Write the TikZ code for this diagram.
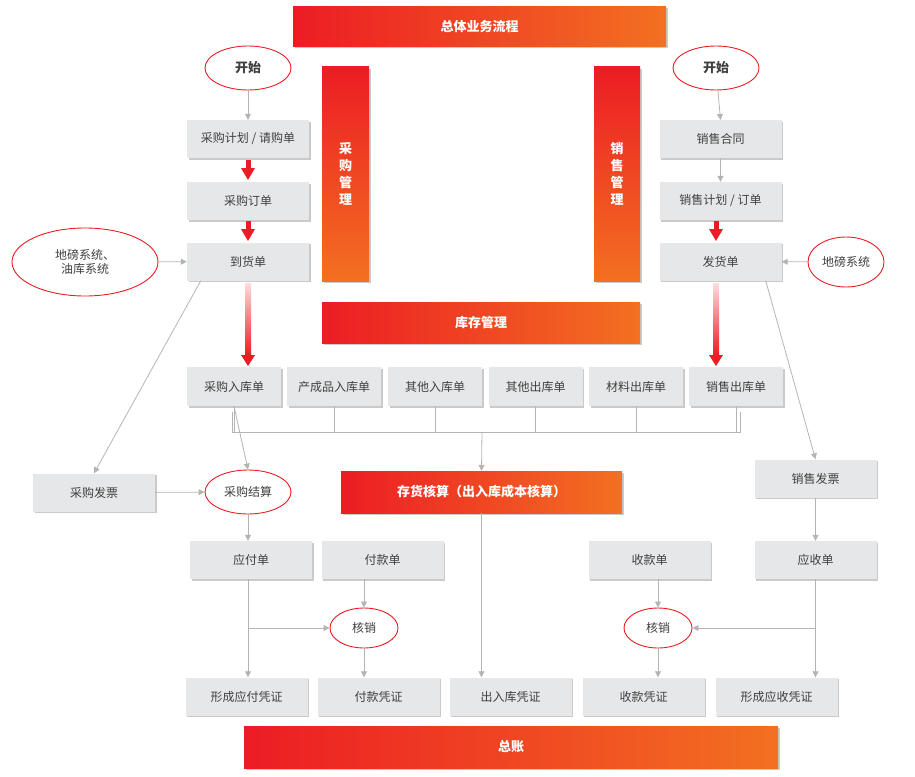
\documentclass[tikz,border=0pt]{standalone}
\usepackage{fontspec}
\setmainfont{Noto Sans CJK SC}
\usetikzlibrary{shadows,arrows.meta,shapes.geometric}
\definecolor{cR}{HTML}{EC1C24}
\definecolor{cO}{HTML}{F37021}
\definecolor{bx}{HTML}{E6E7E8}
\definecolor{ln}{HTML}{B4B4B4}
\definecolor{tx}{HTML}{404040}
\begin{document}
\begin{tikzpicture}[x=1pt,y=-1pt,
  box/.style={draw=none,fill=bx,minimum width=122pt,minimum height=38pt,inner sep=0pt,text=tx,font=\fontsize{12}{14}\selectfont,drop shadow={shadow xshift=1.5pt,shadow yshift=-1.5pt,fill=black!35,opacity=0.6}},
  ell/.style={ellipse,draw=cR,line width=0.9pt,fill=white,inner sep=0pt,text=tx,font=\fontsize{12}{14}\selectfont},
  hbar/.style={left color=cR,right color=cO,draw=none,text=white,font=\bfseries\fontsize{13}{15}\selectfont,inner sep=0pt,drop shadow={shadow xshift=1.5pt,shadow yshift=-1.5pt,fill=black!35,opacity=0.6}},
  vbar/.style={top color=cR,bottom color=cO,draw=none,text=white,font=\bfseries\fontsize{13}{17}\selectfont,inner sep=0pt,align=center,drop shadow={shadow xshift=1.5pt,shadow yshift=-1.5pt,fill=black!35,opacity=0.6}},
  ar/.style={draw=ln,line width=0.8pt,-{Triangle[length=6pt,width=6pt]}},
  gl/.style={draw=ln,line width=0.8pt}]
\useasboundingbox (0,0) rectangle (915,776);
% bars
\node[hbar,minimum width=373pt,minimum height=40pt] (title) at (479.5,27) {总体业务流程};
\node[vbar,minimum width=47pt,minimum height=214pt] (cg) at (345.5,174) {采\\购\\管\\理};
\node[vbar,minimum width=46pt,minimum height=214pt] (xs) at (617,174) {销\\售\\管\\理};
\node[hbar,minimum width=318pt,minimum height=41pt] (kc) at (481,322.5) {库存管理};
\node[hbar,minimum width=281pt,minimum height=42pt] (ch) at (481.5,492) {存货核算（出入库成本核算）};
\node[hbar,minimum width=534pt,minimum height=42pt] (zz) at (511,747) {总账};
% ellipses
\node[ell,minimum width=86pt,minimum height=44pt,font=\bfseries\fontsize{13}{15}\selectfont] (s1) at (248,68) {开始};
\node[ell,minimum width=86pt,minimum height=44pt,font=\bfseries\fontsize{13}{15}\selectfont] (s2) at (716,68) {开始};
\node[ell,minimum width=146pt,minimum height=68pt,align=center] (db1) at (85,262) {地磅系统、\\油库系统};
\node[ell,minimum width=76pt,minimum height=50pt] (db2) at (846,262) {地磅系统};
% left column
\node[box] (p1) at (248,139) {采购计划 / 请购单};
\node[box] (p2) at (248,201) {采购订单};
\node[box] (p3) at (248,261.5) {到货单};
\node[box] (q1) at (720.5,139) {销售合同};
\node[box] (q2) at (720.5,201) {销售计划 / 订单};
\node[box] (q3) at (720.5,261.5) {发货单};
% row
\foreach \n/\x/\t in {r1/234/采购入库单,r2/334/产成品入库单,r3/435/其他入库单,r4/535.5/其他出库单,r5/636/材料出库单,r6/736/销售出库单}
  \node[box,minimum width=94pt,minimum height=39pt] (\n) at (\x,386.5) {\t};
\node[box] (fp1) at (94,492.5) {采购发票};
\node[ell,minimum width=86pt,minimum height=44pt] (js) at (248,492) {采购结算};
\node[box] (fp2) at (815.5,478.5) {销售发票};
\node[box] (yf) at (251,560) {应付单};
\node[box] (fk) at (382.5,560) {付款单};
\node[box] (sk) at (649.5,560) {收款单};
\node[box] (ys) at (815.5,560) {应收单};
\node[ell,minimum width=68pt,minimum height=40pt] (hx1) at (364,628) {核销};
\node[ell,minimum width=68pt,minimum height=40pt] (hx2) at (658,628) {核销};
\node[box] (v1) at (246.5,696.5) {形成应付凭证};
\node[box] (v2) at (378.5,696.5) {付款凭证};
\node[box] (v3) at (510.5,696.5) {出入库凭证};
\node[box] (v4) at (643.5,696.5) {收款凭证};
\node[box] (v5) at (776.5,696.5) {形成应收凭证};
% gray arrows
\draw[ar] (s1) -- (p1);
\draw[ar] (s2) -- (q1 |- 0,120);
\draw[ar] (q1) -- (q2);
\draw[ar] (db1) -- (p3);
\draw[ar] (db2) -- (q3);
\draw[ar] (p3.south west) ++(14,0) coordinate (d1) -- (fp1.north);
\draw[ar] (q3.south east) ++(-16,0) coordinate (d2) -- (fp2.north);
\foreach \n in {r1,r2,r3,r4,r5,r6} \draw[gl] (\n.south) -- ++(0,26);
\coordinate (br) at (232,432);
\draw[gl] (232,412) |- (740,432) -- (740,412);
\draw[ar] (482,432) -- (ch.north);
\draw[ar] (r1.south) -- (js.north);
\draw[ar] (fp1) -- (js);
\draw[ar] (js) -- (yf.north -| js);
\draw[ar] (yf.south -| js) -- (v1.north -| js);
\draw[ar] (248,628) -- (hx1);
\draw[ar] (fk.south -| hx1) -- (hx1);
\draw[ar] (hx1) -- (v2.north -| hx1);
\draw[ar] (ch.south) -- (v3.north -| ch);
\draw[ar] (sk.south -| hx2) -- (hx2);
\draw[ar] (hx2) -- (v4.north -| hx2);
\draw[ar] (fp2) -- (ys);
\draw[ar] (ys) -- (v5.north -| ys);
\draw[ar] (815.5,628) -- (hx2);
% red arrows
\fill[cR] (245.5,160) rectangle (250.5,168);
\fill[cR] (241,168) -- (255,168) -- (248,180) -- cycle;
\fill[cR] (245.5,221) rectangle (250.5,229);
\fill[cR] (241,229) -- (255,229) -- (248,241) -- cycle;
\fill[cR] (713.5,221) rectangle (718.5,229);
\fill[cR] (709,229) -- (723,229) -- (716,241) -- cycle;
\shade[top color=cR!15,bottom color=cR] (245,283) rectangle (251,355);
\fill[cR] (241,355) -- (255,355) -- (248,366) -- cycle;
\shade[top color=cR!15,bottom color=cR] (713,283) rectangle (719,355);
\fill[cR] (709,355) -- (723,355) -- (716,366) -- cycle;
\end{tikzpicture}
\end{document}
